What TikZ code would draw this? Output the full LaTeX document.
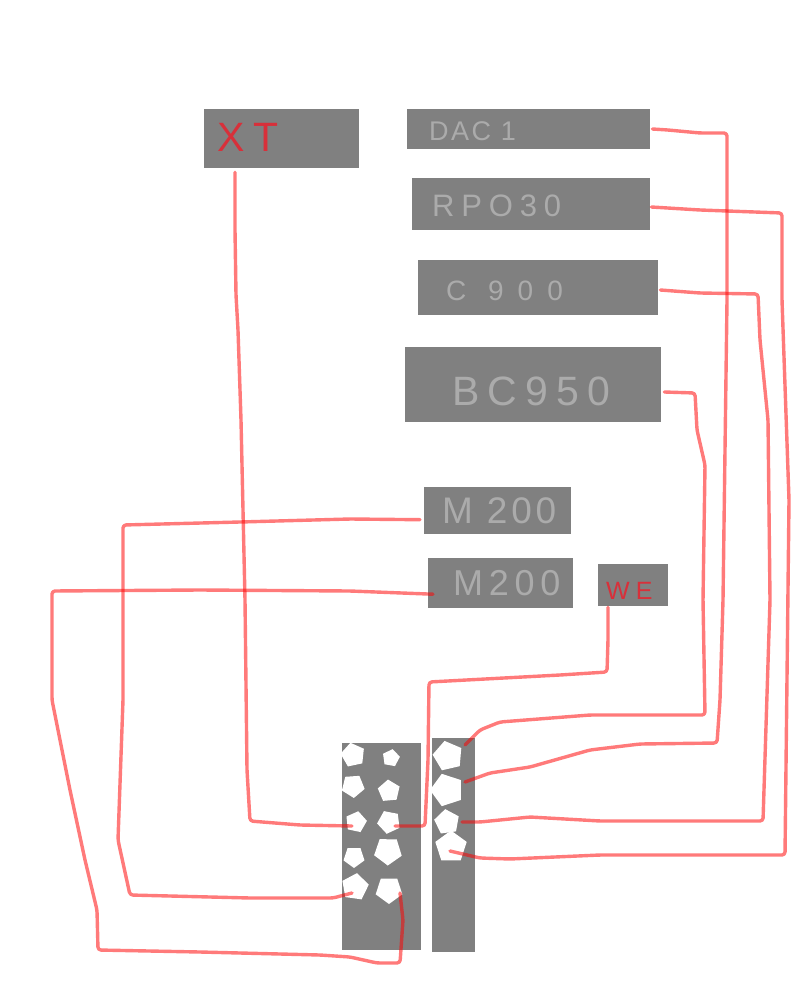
\documentclass[tikz,border=0pt]{standalone}
\usepackage{fontspec}
\setmainfont{Liberation Sans}
\usetikzlibrary{shapes.geometric}
\definecolor{boxgray}{HTML}{808080}
\definecolor{inkgray}{HTML}{ABABAB}
\definecolor{inkred}{HTML}{D8303A}
\newcommand{\lblfont}[2]{\fontsize{#1}{#1}\selectfont\addfontfeature{LetterSpace=#2}}
\tikzset{
  graybox/.style={fill=boxgray,draw=none,inner sep=0pt,anchor=north west},
  graylabel/.style={text=inkgray,inner sep=0pt,anchor=west},
  redlabel/.style={text=inkred,inner sep=0pt,anchor=west},
  pent/.style={regular polygon,regular polygon sides=5,fill=white,draw=none,inner sep=0pt},
  wire/.style={draw=red,draw opacity=.52,line width=3.4pt,line join=round,line cap=round,rounded corners=3pt},
}
\begin{document}
\begin{tikzpicture}[x=1pt,y=-1pt]
\useasboundingbox[fill=white] (0,0) rectangle (800,1000);
% boxes
\node[graybox,minimum width=155pt,minimum height=59pt] (xt) at (204,109) {};
\node[graybox,minimum width=243pt,minimum height=40pt] (dac) at (407,109) {};
\node[graybox,minimum width=238pt,minimum height=52pt] (rpo) at (412,178) {};
\node[graybox,minimum width=240pt,minimum height=55pt] (cnine) at (418,260) {};
\node[graybox,minimum width=256pt,minimum height=75pt] (bc) at (405,347) {};
\node[graybox,minimum width=147pt,minimum height=47pt] (ma) at (424,487) {};
\node[graybox,minimum width=145pt,minimum height=50pt] (mb) at (428,558) {};
\node[graybox,minimum width=70pt,minimum height=42pt] (we) at (598,564) {};
\node[graybox,minimum width=79pt,minimum height=207pt] (barl) at (342,743) {};
\node[graybox,minimum width=43pt,minimum height=214pt] (barr) at (432,738) {};
% labels
\node[redlabel] (xtl) at (217,137) {\lblfont{41}{22}XT};
\node[graylabel] (dacl) at (429,131) {\lblfont{27}{9}DAC 1};
\node[graylabel] (rpol) at (432,206) {\lblfont{31}{22}RPO30};
\node[graylabel] (cninel) at (446,291) {\lblfont{28}{50}C 900};
\node[graylabel] (bcl) at (452,391) {\lblfont{41}{20}BC950};
\node[graylabel] (mal) at (442,511) {\lblfont{37}{10}M 200};
\node[graylabel] (mbl) at (453,583) {\lblfont{36}{16}M200};
\node[redlabel] (wel) at (606,591) {\lblfont{25}{24}WE};
% pentagons
\node[pent,minimum size=25pt,rotate=12] (p1) at (353,755) {};
\node[pent,minimum size=18pt,rotate=-10] (p2) at (391,758) {};
\node[pent,minimum size=24pt,rotate=40] (p3) at (353,786) {};
\node[pent,minimum size=23pt,rotate=5] (p4) at (389,791) {};
\node[pent,minimum size=22pt,rotate=-12] (p5) at (356,822) {};
\node[pent,minimum size=24pt,rotate=25] (p6) at (389,822) {};
\node[pent,minimum size=22pt,rotate=180] (p7) at (354,857) {};
\node[pent,minimum size=29pt,rotate=35] (p8) at (388,851) {};
\node[pent,minimum size=28pt,rotate=-8] (p9) at (355,887) {};
\node[pent,minimum size=28pt,rotate=180] (p10) at (389,890) {};
\node[pent,minimum size=31pt,rotate=85] (p11) at (448,756) {};
\node[pent,minimum size=34pt,rotate=90] (p12) at (447,790) {};
\node[pent,minimum size=26pt,rotate=80] (p13) at (447,822) {};
\node[pent,minimum size=33pt,rotate=0] (p14) at (451,847) {};
% connectors
\draw[wire] ([xshift=31pt,yshift=-4pt]xt.south west) -- (235,230) -- (236,295) -- (238,330) -- (241,420) -- (245,600) -- (247,770) -- (250,821) -- (300,825) -- ([xshift=-4pt,yshift=-4pt]p5.center);
\draw[wire] ([xshift=2pt,yshift=-20pt]dac.north east) -- (668,130) -- (700,133) -- (727,133) -- (727,300) -- (723,600) -- (720,700) -- (717,743) -- (640,744) -- (590,750) -- (530,767) -- (490,773) -- ([xshift=18pt,yshift=8pt]p12.center);
\draw[wire] ([xshift=1pt,yshift=-29pt]rpo.north east) -- (700,210) -- (782,213) -- (782,300) -- (789,500) -- (785,855) -- (600,855) -- (510,859) -- (480,858) -- ([xshift=-1pt,yshift=-4pt]p14.center);
\draw[wire] ([xshift=2pt,yshift=-30pt]cnine.north east) -- (700,293) -- (758,294) -- (760,340) -- (768,420) -- (770,600) -- (763,821) -- (600,821) -- (530,817) -- (480,822) -- ([xshift=15pt]p13.center);
\draw[wire] ([xshift=3pt,yshift=-45pt]bc.north east) -- (695,393) -- (697,430) -- (705,465) -- (703,600) -- (705,715) -- (590,715) -- (500,722) -- (480,730) -- ([xshift=17pt,yshift=11pt]p11.center);
\draw[wire] ([xshift=10pt,yshift=-1pt]we.south west) -- (608,640) -- (607,672) -- (560,675) -- (429,682) -- (428,760) -- (425,826) -- ([xshift=6pt,yshift=-4pt]p6.center);
\draw[wire] ([xshift=-4pt,yshift=-9pt]ma.west) -- (350,519) -- (240,522) -- (123,525) -- (123,700) -- (118,840) -- (130,895) -- (250,898) -- (333,898) -- ([xshift=-3pt,yshift=-6pt]p9.center);
\draw[wire] ([xshift=5pt,yshift=-11pt]mb.west) -- (350,591) -- (200,590) -- (52,591) -- (52,700) -- (70,790) -- (85,860) -- (97,910) -- (98,950) -- (200,952) -- (320,955) -- (350,957) -- (377,963) -- (400,963) -- (403,920) -- ([xshift=11pt,yshift=-3pt]p10.center);
\end{tikzpicture}
\end{document}
